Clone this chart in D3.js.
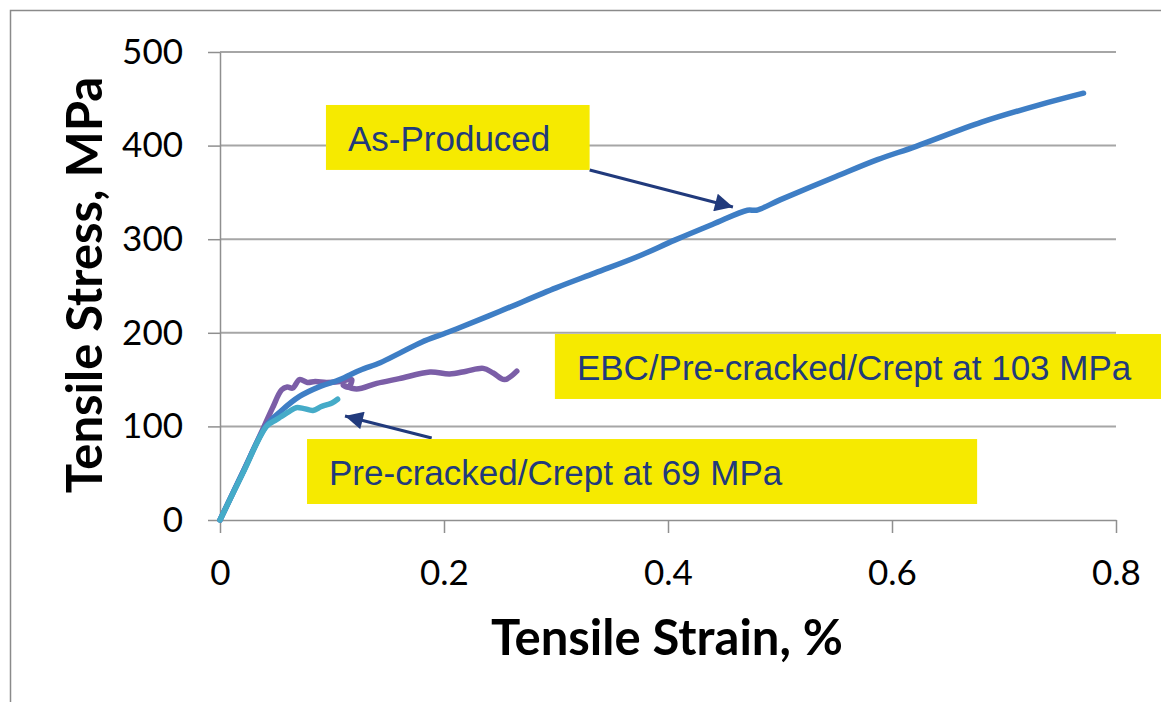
<!DOCTYPE html>
<html>
<head>
<meta charset="utf-8">
<script src="https://cdn.jsdelivr.net/npm/d3@7"></script>
<style>
  body { margin: 0; background: #fff; }
  svg { display: block; }
</style>
</head>
<body>
<div id="chart"></div>
<script>
// tick values
var xTicks = [0, 0.2, 0.4, 0.6, 0.8];
var yTicks = [0, 100, 200, 300, 400, 500];

// As-Produced
var asProducedStrain = [0, 0.02, 0.0415, 0.055, 0.071, 0.09, 0.107, 0.125, 0.143, 0.16, 0.18, 0.2, 0.211, 0.25, 0.3, 0.335, 0.372, 0.406, 0.44, 0.471, 0.479, 0.5, 0.55, 0.587, 0.621, 0.68, 0.73, 0.771];
var asProducedStress = [0, 50, 101, 117, 132, 143, 150, 160, 168, 178, 190, 199, 204, 223, 248, 264, 281, 299, 316, 331, 331, 342, 367, 385, 399, 425, 443, 456];

// EBC/Pre-cracked/Crept at 103 MPa
var ebcStrain = [0, 0.02, 0.039, 0.047, 0.055, 0.06, 0.065, 0.071, 0.078, 0.085, 0.095, 0.107, 0.1176, 0.1146, 0.11, 0.122, 0.14, 0.16, 0.1875, 0.205, 0.22, 0.235, 0.244, 0.254, 0.265];
var ebcStress = [0, 50, 99, 120, 139, 142, 141, 150, 147, 148, 147, 148, 150, 142, 144, 140, 146, 151, 158, 156, 159, 162, 157, 150, 159];

// Pre-cracked/Crept at 69 MPa
var preCrackedStrain = [0, 0.02, 0.0415, 0.05, 0.054, 0.062, 0.068, 0.075, 0.083, 0.09, 0.095, 0.1, 0.105];
var preCrackedStress = [0, 49, 100, 107, 110, 116, 120, 119, 117, 121, 123, 125, 129];

// annotation labels: box corners and arrow ends in data units
var labels = [
  { text: 'As-Produced', box: [0.0946, 443.4, 0.330, 374], arrow: [0.330, 374, 0.458, 334.4] },
  { text: 'EBC/Pre-cracked/Crept at 103 MPa', box: [0.299, 198.7, 0.842, 129.3], arrow: null },
  { text: 'Pre-cracked/Crept at 69 MPa', box: [0.0777, 86.5, 0.676, 17.1], arrow: [0.189, 87.6, 0.1116, 111.1] }
];

function StressStrainChart (params) {
  var attrs = {
    container: 'body',
    width: 1161,
    height: 702,
    margin: { top: 52, right: 45, bottom: 182, left: 220 },
    gridColor: '#a6a6a6',
    axisColor: '#8f8f8f',
    labelFill: '#f6ea00',
    labelColor: '#213a7c',
    series: []
  };

  attrs = Object.assign(attrs, params);

  var viz = {
    container: d3.select(attrs.container),
    svg: null,
    chart: null
  };

  function main () {
    var chartWidth = attrs.width - attrs.margin.left - attrs.margin.right;
    var chartHeight = attrs.height - attrs.margin.top - attrs.margin.bottom;

    var x = d3.scaleLinear().domain([0, 0.8]).range([0, chartWidth]);
    var y = d3.scaleLinear().domain([0, 500]).range([chartHeight, 0]);

    viz.svg = patternify({ container: viz.container, tag: 'svg', selector: 'svg-container' })
      .attr('width', attrs.width)
      .attr('height', attrs.height);

    // outer frame of the chart area
    patternify({ container: viz.svg, tag: 'rect', selector: 'frame' })
      .attr('x', 10.5)
      .attr('y', 10.5)
      .attr('width', attrs.width)
      .attr('height', attrs.height)
      .attr('fill', '#fff')
      .attr('stroke', '#8a8a8a')
      .attr('stroke-width', 1.5);

    viz.chart = patternify({ container: viz.svg, tag: 'g', selector: 'chart' })
      .attr('transform', `translate(${attrs.margin.left}, ${attrs.margin.top})`);

    // gridlines
    patternify({ container: viz.chart, tag: 'line', selector: 'grid', data: yTicks.slice(1) })
      .attr('x1', 0)
      .attr('x2', chartWidth)
      .attr('y1', d => y(d))
      .attr('y2', d => y(d))
      .attr('stroke', attrs.gridColor)
      .attr('stroke-width', 2);

    var yAxis = patternify({ container: viz.chart, tag: 'g', selector: 'y-axis' })
      .call(d3.axisLeft(y).tickValues(yTicks).tickSize(12).tickSizeOuter(0).tickPadding(25).tickFormat(d3.format('d')));

    var xAxis = patternify({ container: viz.chart, tag: 'g', selector: 'x-axis' })
      .attr('transform', `translate(0, ${chartHeight})`)
      .call(d3.axisBottom(x).tickValues(xTicks).tickSize(13).tickSizeOuter(0).tickPadding(27).tickFormat(d => d === 0 ? '0' : d3.format('.1f')(d)));

    [yAxis, xAxis].forEach(function (axis) {
      axis.select('.domain').attr('stroke', attrs.axisColor).attr('stroke-width', 1.5);
      axis.selectAll('.tick line').attr('stroke', attrs.axisColor).attr('stroke-width', 1.5);
      axis.selectAll('.tick text')
        .attr('fill', '#000')
        .style('font-family', 'Lato, sans-serif')
        .style('font-size', '35px');
    });

    // axis titles
    patternify({ container: viz.svg, tag: 'text', selector: 'y-title' })
      .attr('transform', 'translate(102, 285) rotate(-90)')
      .attr('text-anchor', 'middle')
      .style('font-family', 'Lato, sans-serif')
      .style('font-weight', 'bold')
      .style('font-size', '49px')
      .text('Tensile Stress, MPa');

    patternify({ container: viz.svg, tag: 'text', selector: 'x-title' })
      .attr('x', 667)
      .attr('y', 655)
      .attr('text-anchor', 'middle')
      .style('font-family', 'Lato, sans-serif')
      .style('font-weight', 'bold')
      .style('font-size', '49px')
      .text('Tensile Strain, %');

    // curves
    var line = d3.line()
      .x(d => x(d[0]))
      .y(d => y(d[1]))
      .curve(d3.curveCatmullRom.alpha(0.5));

    patternify({ container: viz.chart, tag: 'path', selector: 'curve', data: attrs.series })
      .attr('d', d => line(d3.zip(d.strain, d.stress)))
      .attr('fill', 'none')
      .attr('stroke', d => d.color)
      .attr('stroke-width', 5.5)
      .attr('stroke-linejoin', 'round')
      .attr('stroke-linecap', 'round');

    // annotation arrows
    var defs = patternify({ container: viz.svg, tag: 'defs', selector: 'defs' });
    patternify({ container: defs, tag: 'marker', selector: 'arrow-head' })
      .attr('id', 'arrow-head')
      .attr('viewBox', '0 0 10 10')
      .attr('refX', 10)
      .attr('refY', 5)
      .attr('markerWidth', 7)
      .attr('markerHeight', 6)
      .attr('markerUnits', 'strokeWidth')
      .attr('orient', 'auto')
      .html('<path d="M0,0 L10,5 L0,10 Z" fill="' + attrs.labelColor + '"></path>');

    patternify({ container: viz.chart, tag: 'line', selector: 'label-arrow', data: labels.filter(d => d.arrow) })
      .attr('x1', d => x(d.arrow[0]))
      .attr('y1', d => y(d.arrow[1]))
      .attr('x2', d => x(d.arrow[2]))
      .attr('y2', d => y(d.arrow[3]))
      .attr('stroke', attrs.labelColor)
      .attr('stroke-width', 3)
      .attr('marker-end', 'url(#arrow-head)');

    // annotation boxes
    var label = patternify({ container: viz.chart, tag: 'g', selector: 'label', data: labels })
      .attr('transform', d => `translate(${x(d.box[0])}, ${y(d.box[1])})`);

    patternify({ container: label, tag: 'rect', selector: 'label-box', data: d => [d] })
      .attr('width', d => x(d.box[2]) - x(d.box[0]))
      .attr('height', d => y(d.box[3]) - y(d.box[1]))
      .attr('fill', attrs.labelFill);

    patternify({ container: label, tag: 'text', selector: 'label-text', data: d => [d] })
      .attr('x', 22)
      .attr('y', d => (y(d.box[3]) - y(d.box[1])) / 2 + 13.5)
      .attr('fill', attrs.labelColor)
      .style('font-family', '"Liberation Sans", Arial, sans-serif')
      .style('font-size', '35px')
      .text(d => d.text);
  }

  function patternify (params) {
    var container = params.container;
    var selector = params.selector;
    var data = params.data || [selector];
    var selection = container.selectAll('.' + selector).data(data);
    return selection.join(params.tag).attr('class', selector);
  }

  main.render = function () {
    main();
    return main;
  };

  return main;
}

StressStrainChart({
  container: '#chart',
  series: [
    { name: 'EBC/Pre-cracked/Crept at 103 MPa', strain: ebcStrain, stress: ebcStress, color: '#7b5ea7' },
    { name: 'As-Produced', strain: asProducedStrain, stress: asProducedStress, color: '#3e7ec5' },
    { name: 'Pre-cracked/Crept at 69 MPa', strain: preCrackedStrain, stress: preCrackedStress, color: '#45abc8' }
  ]
}).render();
</script>
</body>
</html>
